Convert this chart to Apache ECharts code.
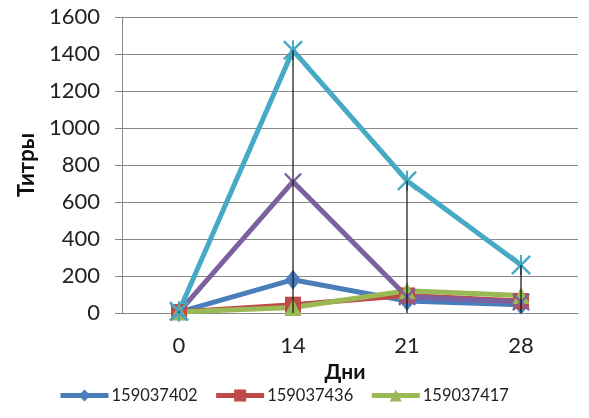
<!DOCTYPE html>
<html><head><meta charset="utf-8">
<script src="https://cdn.jsdelivr.net/npm/echarts@6/dist/echarts.min.js"></script>
<style>html,body{margin:0;padding:0;background:#fff}#c{width:589px;height:418px}</style>
</head><body><div id="c"></div>
<script>
const categories = ['0', '14', '21', '28'];
const s159037402 = [5, 180, 65, 45];
const s159037436 = [5, 45, 95, 65];
const s159037417 = [5, 30, 120, 95];
const sPurple = [5, 710, 88, 60];
const sCyan = [10, 1420, 715, 260];
const lowValues = [0, 0, 0, 0];
const legendNames = ['159037402', '159037436', '159037417'];

const xPath = 'path://M0,1.5L1.5,0L8,6.5L14.5,0L16,1.5L9.5,8L16,14.5L14.5,16L8,9.5L1.5,16L0,14.5L6.5,8Z';
const starPath = 'path://M0,1.4L1.4,0L8,6.6L14.6,0L16,1.4L9.4,8L16,14.6L14.6,16L8,9.4L1.4,16L0,14.6L6.6,8Z M7.2,0L8.8,0L8.8,16L7.2,16Z';

const all = [s159037402, s159037436, s159037417, sPurple, sCyan];
const hiLo = categories.map((c, i) => [i, Math.max(...all.map(a => a[i])), lowValues[i]]);

function mk(name, data, color, symbol, size) {
  return {
    name, type: 'line', data, symbol, symbolSize: size,
    lineStyle: { color, width: 5 }, itemStyle: { color }, showSymbol: true
  };
}

const chart = echarts.init(document.getElementById('c'));
chart.setOption({
  animation: false,
  textStyle: { fontFamily: 'Lato' },
  grid: { left: 122, right: 11, top: 17, bottom: 105 },
  legend: {
    data: legendNames, bottom: 9, left: 53, itemWidth: 48, itemHeight: 15, itemGap: 16,
    lineStyle: { width: 5 },
    textStyle: { fontSize: 16.5, color: '#222', fontFamily: 'Lato', padding: [0, 0, 0, -2] }
  },
  xAxis: {
    type: 'category', data: categories, boundaryGap: true,
    name: 'Дни', nameLocation: 'middle', nameGap: 24,
    nameTextStyle: { fontSize: 21, fontWeight: 'bold', color: '#111', fontFamily: 'Lato', padding: [0, 10, 0, 0] },
    axisLine: { lineStyle: { color: '#888', width: 1 } },
    axisTick: { show: false },
    axisLabel: { fontSize: 22, color: '#222', margin: 22 }
  },
  yAxis: {
    type: 'value', min: 0, max: 1600, interval: 200,
    name: 'Титры', nameLocation: 'middle', nameGap: 80, nameRotate: 90,
    nameTextStyle: { fontSize: 22, fontWeight: 'bold', color: '#111', fontFamily: 'Lato' },
    axisLine: { show: true, lineStyle: { color: '#888', width: 1 } },
    axisTick: { show: true, length: 7, lineStyle: { color: '#888' } },
    splitLine: { lineStyle: { color: '#888', width: 1 } },
    axisLabel: { fontSize: 22, color: '#222', margin: 22, formatter: v => String(v) }
  },
  series: [
    mk('159037402', s159037402, '#4a7ebb', 'diamond', [16, 20]),
    mk('159037436', s159037436, '#be4b48', 'rect', 16),
    mk('159037417', s159037417, '#98b954', 'triangle', 17),
    mk('Ряд4', sPurple, '#7d60a0', xPath, 18),
    mk('Ряд5', sCyan, '#46aac5', starPath, 20),
    {
      name: 'hilo', type: 'custom', data: hiLo, z: 10,
      renderItem: function (params, api) {
        const p1 = api.coord([api.value(0), api.value(1)]);
        const p2 = api.coord([api.value(0), api.value(2)]);
        return { type: 'line', shape: { x1: p1[0], y1: p1[1], x2: p2[0], y2: p2[1] },
                 style: { stroke: '#111', lineWidth: 1.2 } };
      }
    }
  ]
});
</script></body></html>
